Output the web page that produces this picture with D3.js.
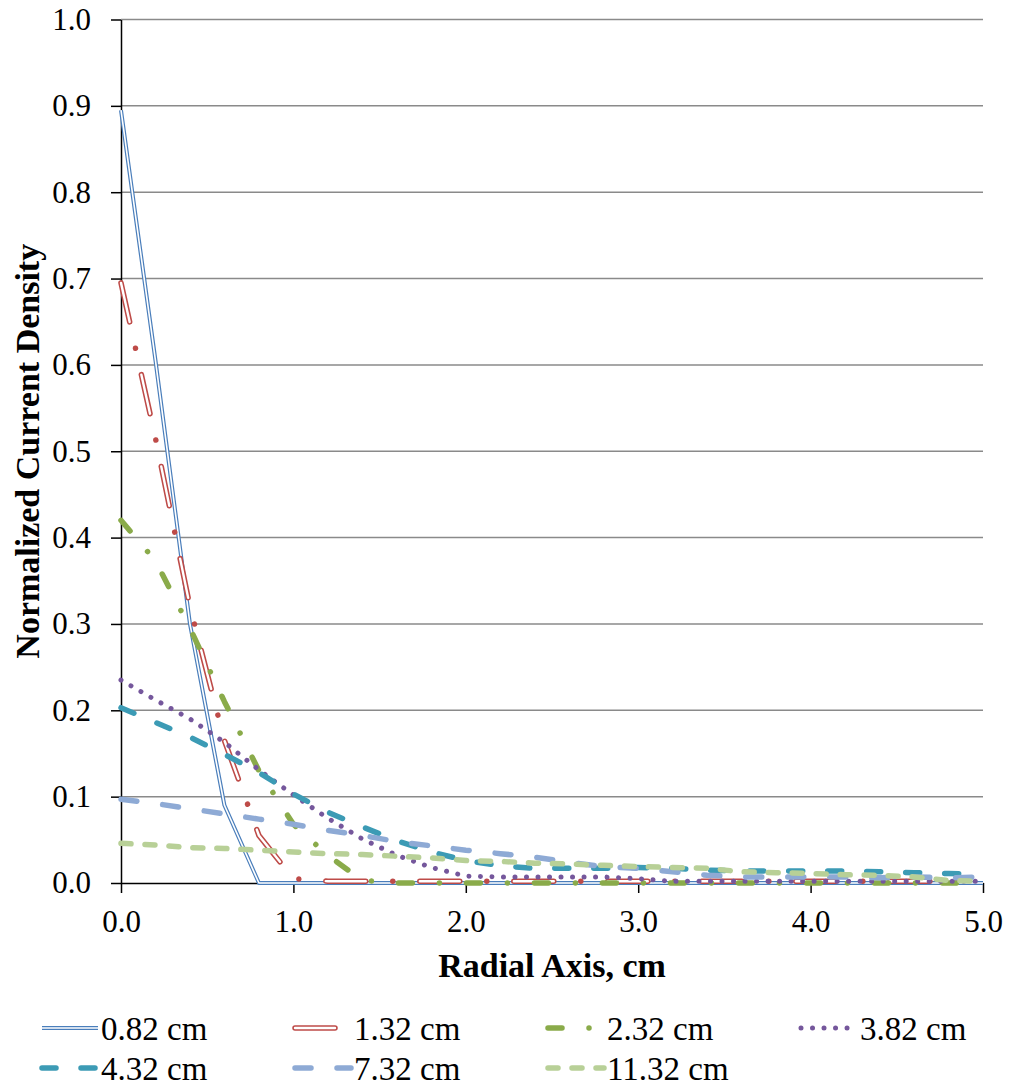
<!DOCTYPE html>
<html lang="en">
<head>
	<meta charset="utf-8" />
	<title>Normalized Current Density</title>
	<script src="https://d3js.org/d3.v7.min.js"></script>
	<style>
		body { margin: 0; background: #fff; }
		text { font-family: "Liberation Serif", "Times New Roman", serif; fill: #000; }
	</style>
</head>
<body>
	<div id="chart"></div>
	<script>
		// radial positions (cm) shared by every series
		var radius = [0.0, 0.2, 0.4, 0.6, 0.8, 1.0, 1.2, 1.4, 1.6, 1.8, 2.0, 2.2, 2.4,
			2.6, 2.8, 3.0, 3.2, 3.4, 3.6, 3.8, 4.0, 4.2, 4.4, 4.6, 4.8, 5.0];

		// normalized current density for each depth
		var d082 = [0.895, 0.605, 0.300, 0.090, 0.000, 0.000, 0.000, 0.000, 0.000, 0.000, 0.000, 0.000, 0.000,
			0.000, 0.000, 0.000, 0.000, 0.000, 0.000, 0.000, 0.000, 0.000, 0.000, 0.000, 0.000, 0.000];
		var d132 = [0.695, 0.515, 0.320, 0.165, 0.055, 0.005, 0.002, 0.002, 0.002, 0.002, 0.002, 0.002, 0.002,
			0.002, 0.002, 0.002, 0.002, 0.002, 0.002, 0.002, 0.002, 0.002, 0.002, 0.002, 0.002, 0.002];
		var d232 = [0.420, 0.373, 0.295, 0.210, 0.130, 0.068, 0.032, 0.003, 0.000, 0.000, 0.000, 0.000, 0.000,
			0.000, 0.000, 0.000, 0.000, 0.000, 0.000, 0.000, 0.000, 0.000, 0.000, 0.000, 0.000, 0.000];
		var d382 = [0.235, 0.212, 0.190, 0.163, 0.131, 0.102, 0.075, 0.051, 0.032, 0.018, 0.008, 0.007, 0.007,
			0.007, 0.007, 0.005, 0.002, 0.002, 0.002, 0.002, 0.002, 0.002, 0.002, 0.002, 0.002, 0.002];
		var d432 = [0.203, 0.186, 0.169, 0.149, 0.128, 0.103, 0.082, 0.065, 0.049, 0.036, 0.026, 0.020, 0.017,
			0.017, 0.017, 0.018, 0.017, 0.015, 0.014, 0.014, 0.014, 0.014, 0.013, 0.012, 0.011, 0.010];
		var d732 = [0.097, 0.092, 0.086, 0.080, 0.074, 0.068, 0.061, 0.055, 0.048, 0.043, 0.038, 0.034, 0.030,
			0.024, 0.019, 0.017, 0.013, 0.009, 0.007, 0.007, 0.007, 0.007, 0.006, 0.007, 0.006, 0.007];
		var d1132 = [0.046, 0.044, 0.041, 0.040, 0.038, 0.036, 0.034, 0.033, 0.031, 0.029, 0.026, 0.025, 0.023,
			0.022, 0.0205, 0.019, 0.018, 0.017, 0.013, 0.012, 0.011, 0.0095, 0.009, 0.007, 0.003, 0.002];

		var seriesNames = ["0.82 cm", "1.32 cm", "2.32 cm", "3.82 cm", "4.32 cm", "7.32 cm", "11.32 cm"];
		var seriesValues = [d082, d132, d232, d382, d432, d732, d1132];

		var xTicks = [0, 1, 2, 3, 4, 5];
		var yTicks = [0, 0.1, 0.2, 0.3, 0.4, 0.5, 0.6, 0.7, 0.8, 0.9, 1.0];

		// line look for each series (Excel style: double, dash-dot, dots, dashes)
		var styles = [
			{ color: "#4a7ebb", width: 4, dash: null, inner: 1.6, innerDash: null },
			{ color: "#be4b48", width: 5.5, dash: "40 27 0.01 27", inner: 2.4, innerDash: "40 54.01" },
			{ color: "#8aab4a", width: 5.5, dash: "14 27 0.01 27", inner: 0 },
			{ color: "#75579c", width: 5, dash: "0.01 11.5", inner: 0 },
			{ color: "#3c9bb5", width: 5.5, dash: "14 25", inner: 0 },
			{ color: "#8eaad5", width: 5.5, dash: "16 26", inner: 0 },
			{ color: "#b8d097", width: 5.5, dash: "10 14", inner: 0 }
		];

		var W = 1011, H = 1087;
		var plot = { left: 121, right: 983, top: 19.5, bottom: 883 };

		var svg = d3.select("#chart")
			.append("svg")
			.attr("width", W)
			.attr("height", H);

		var x = d3.scaleLinear().domain([0, 5]).range([plot.left, plot.right]);
		var y = d3.scaleLinear().domain([0, 1]).range([plot.bottom, plot.top]);

		// gridlines
		svg.append("g")
			.selectAll("line")
			.data(yTicks.filter(function(d) { return d > 0; }))
			.enter()
			.append("line")
			.attr("x1", plot.left)
			.attr("x2", plot.right)
			.attr("y1", function(d) { return y(d); })
			.attr("y2", function(d) { return y(d); })
			.style("stroke", "#8a8a8a")
			.style("stroke-width", 1.5);

		// y axis
		var yAxis = svg.append("g")
			.attr("transform", "translate(" + plot.left + ",0)")
			.call(d3.axisLeft(y).tickValues(yTicks).tickSize(10).tickSizeOuter(0)
				.tickPadding(20).tickFormat(d3.format(".1f")));
		yAxis.selectAll("text").style("font-size", "31px");
		yAxis.selectAll("line, path").style("stroke", "#000").style("stroke-width", 1.5);

		// x axis
		var xAxis = svg.append("g")
			.attr("transform", "translate(0," + plot.bottom + ")")
			.call(d3.axisBottom(x).tickValues(xTicks).tickSize(10).tickSizeOuter(0)
				.tickPadding(17).tickFormat(d3.format(".1f")));
		xAxis.selectAll("text").style("font-size", "31px");
		xAxis.selectAll("line, path").style("stroke", "#000").style("stroke-width", 1.5);

		// lines
		var line = d3.line()
			.x(function(d) { return x(d[0]); })
			.y(function(d) { return y(d[1]); });

		function drawStroke(g, pathData, st) {
			g.append("path")
				.attr("d", pathData)
				.style("fill", "none")
				.style("stroke", st.color)
				.style("stroke-width", st.width)
				.style("stroke-linecap", st.dash ? "round" : "butt")
				.style("stroke-linejoin", "round")
				.style("stroke-dasharray", st.dash);
			if (st.inner > 0) {
				g.append("path")
					.attr("d", pathData)
					.style("fill", "none")
					.style("stroke", "#fff")
					.style("stroke-width", st.inner)
					.style("stroke-linecap", st.innerDash ? "round" : "butt")
					.style("stroke-linejoin", "round")
					.style("stroke-dasharray", st.innerDash);
			}
		}

		var lines = svg.append("g");
		seriesValues.forEach(function(vals, i) {
			var pts = radius.map(function(r, j) { return [r, vals[j]]; });
			drawStroke(lines.append("g"), line(pts), styles[i]);
		});

		// axis titles
		svg.append("text")
			.attr("x", (plot.left + plot.right) / 2)
			.attr("y", 977)
			.attr("text-anchor", "middle")
			.style("font-size", "34px")
			.style("font-weight", "bold")
			.text("Radial Axis, cm");

		svg.append("text")
			.attr("transform", "translate(39," + (plot.top + plot.bottom) / 2 + ") rotate(-90)")
			.attr("text-anchor", "middle")
			.style("font-size", "34px")
			.style("font-weight", "bold")
			.text("Normalized Current Density");

		// legend
		var legend = svg.append("g");
		seriesNames.forEach(function(name, i) {
			var col = i < 4 ? i : i - 4;
			var row = i < 4 ? 0 : 1;
			var lx = 42 + col * 253;
			var ly = 1028 + row * 40;
			var g = legend.append("g");
			drawStroke(g, "M" + lx + "," + ly + "H" + (lx + 56), styles[i]);
			g.append("text")
				.attr("x", lx + 59)
				.attr("y", ly)
				.attr("dy", "0.35em")
				.style("font-size", "33px")
				.text(name);
		});
	</script>
</body>
</html>
